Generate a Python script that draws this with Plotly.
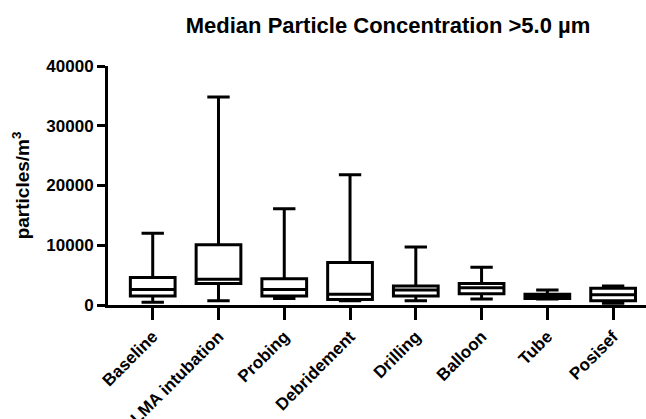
import plotly.graph_objects as go

categories = ["Baseline", "LMA intubation", "Probing", "Debridement", "Drilling", "Balloon", "Tube", "Posisef"]
lower = [450, 700, 1100, 700, 700, 1000, 1000, 300]
q1 = [1500, 3600, 1500, 900, 1500, 1900, 1100, 700]
median = [2600, 4300, 2600, 1800, 2500, 2900, 1600, 1700]
q3 = [4600, 10100, 4400, 7100, 3200, 3600, 1800, 2800]
upper = [12000, 34800, 16100, 21800, 9700, 6300, 2500, 3200]

fig = go.Figure()
fig.add_trace(go.Box(
    x=categories,
    q1=q1, median=median, q3=q3,
    lowerfence=lower, upperfence=upper,
    line=dict(color="black", width=3),
    fillcolor="white",
    width=0.68,
    whiskerwidth=0.5,
    boxpoints=False,
    showlegend=False,
    hoverinfo="skip",
))

font_family = "Liberation Sans, Arial, sans-serif"
fig.update_layout(
    width=646, height=419,
    margin=dict(l=108, r=0, t=66, b=114, autoexpand=False),
    paper_bgcolor="white", plot_bgcolor="white",
    title=dict(text="Median Particle Concentration >5.0 µm",
               x=388/646, xanchor="center", xref="container",
               y=1 - 25/419, yanchor="middle", yref="container",
               automargin=False,
               font=dict(family=font_family, size=22, color="black", weight="bold")),
    font=dict(family=font_family, color="black"),
    xaxis=dict(
        range=[-0.68, 7.5],
        automargin=False,
        showline=True, linecolor="black", linewidth=3,
        ticks="outside", ticklen=12, tickwidth=3, tickcolor="black",
        tickangle=-45,
        tickfont=dict(family=font_family, size=17, color="black", weight="bold"),
        showgrid=False, zeroline=False,
    ),
    yaxis=dict(
        range=[0, 40000],
        automargin=False,
        tickvals=[0, 10000, 20000, 30000, 40000],
        ticktext=["0", "10000", "20000", "30000", "40000"],
        showline=True, linecolor="black", linewidth=3,
        ticks="outside", ticklen=8, tickwidth=3, tickcolor="black",
        tickfont=dict(family=font_family, size=17, color="black", weight="bold"),
        showgrid=False, zeroline=False,
        title=dict(text="particles/m<sup>3</sup>", standoff=12,
                   font=dict(family=font_family, size=19, color="black", weight="bold")),
    ),
)

fig.write_html("out.html", config={"displayModeBar": False},
               post_script="document.body.style.margin='0';document.body.style.overflow='hidden';")
